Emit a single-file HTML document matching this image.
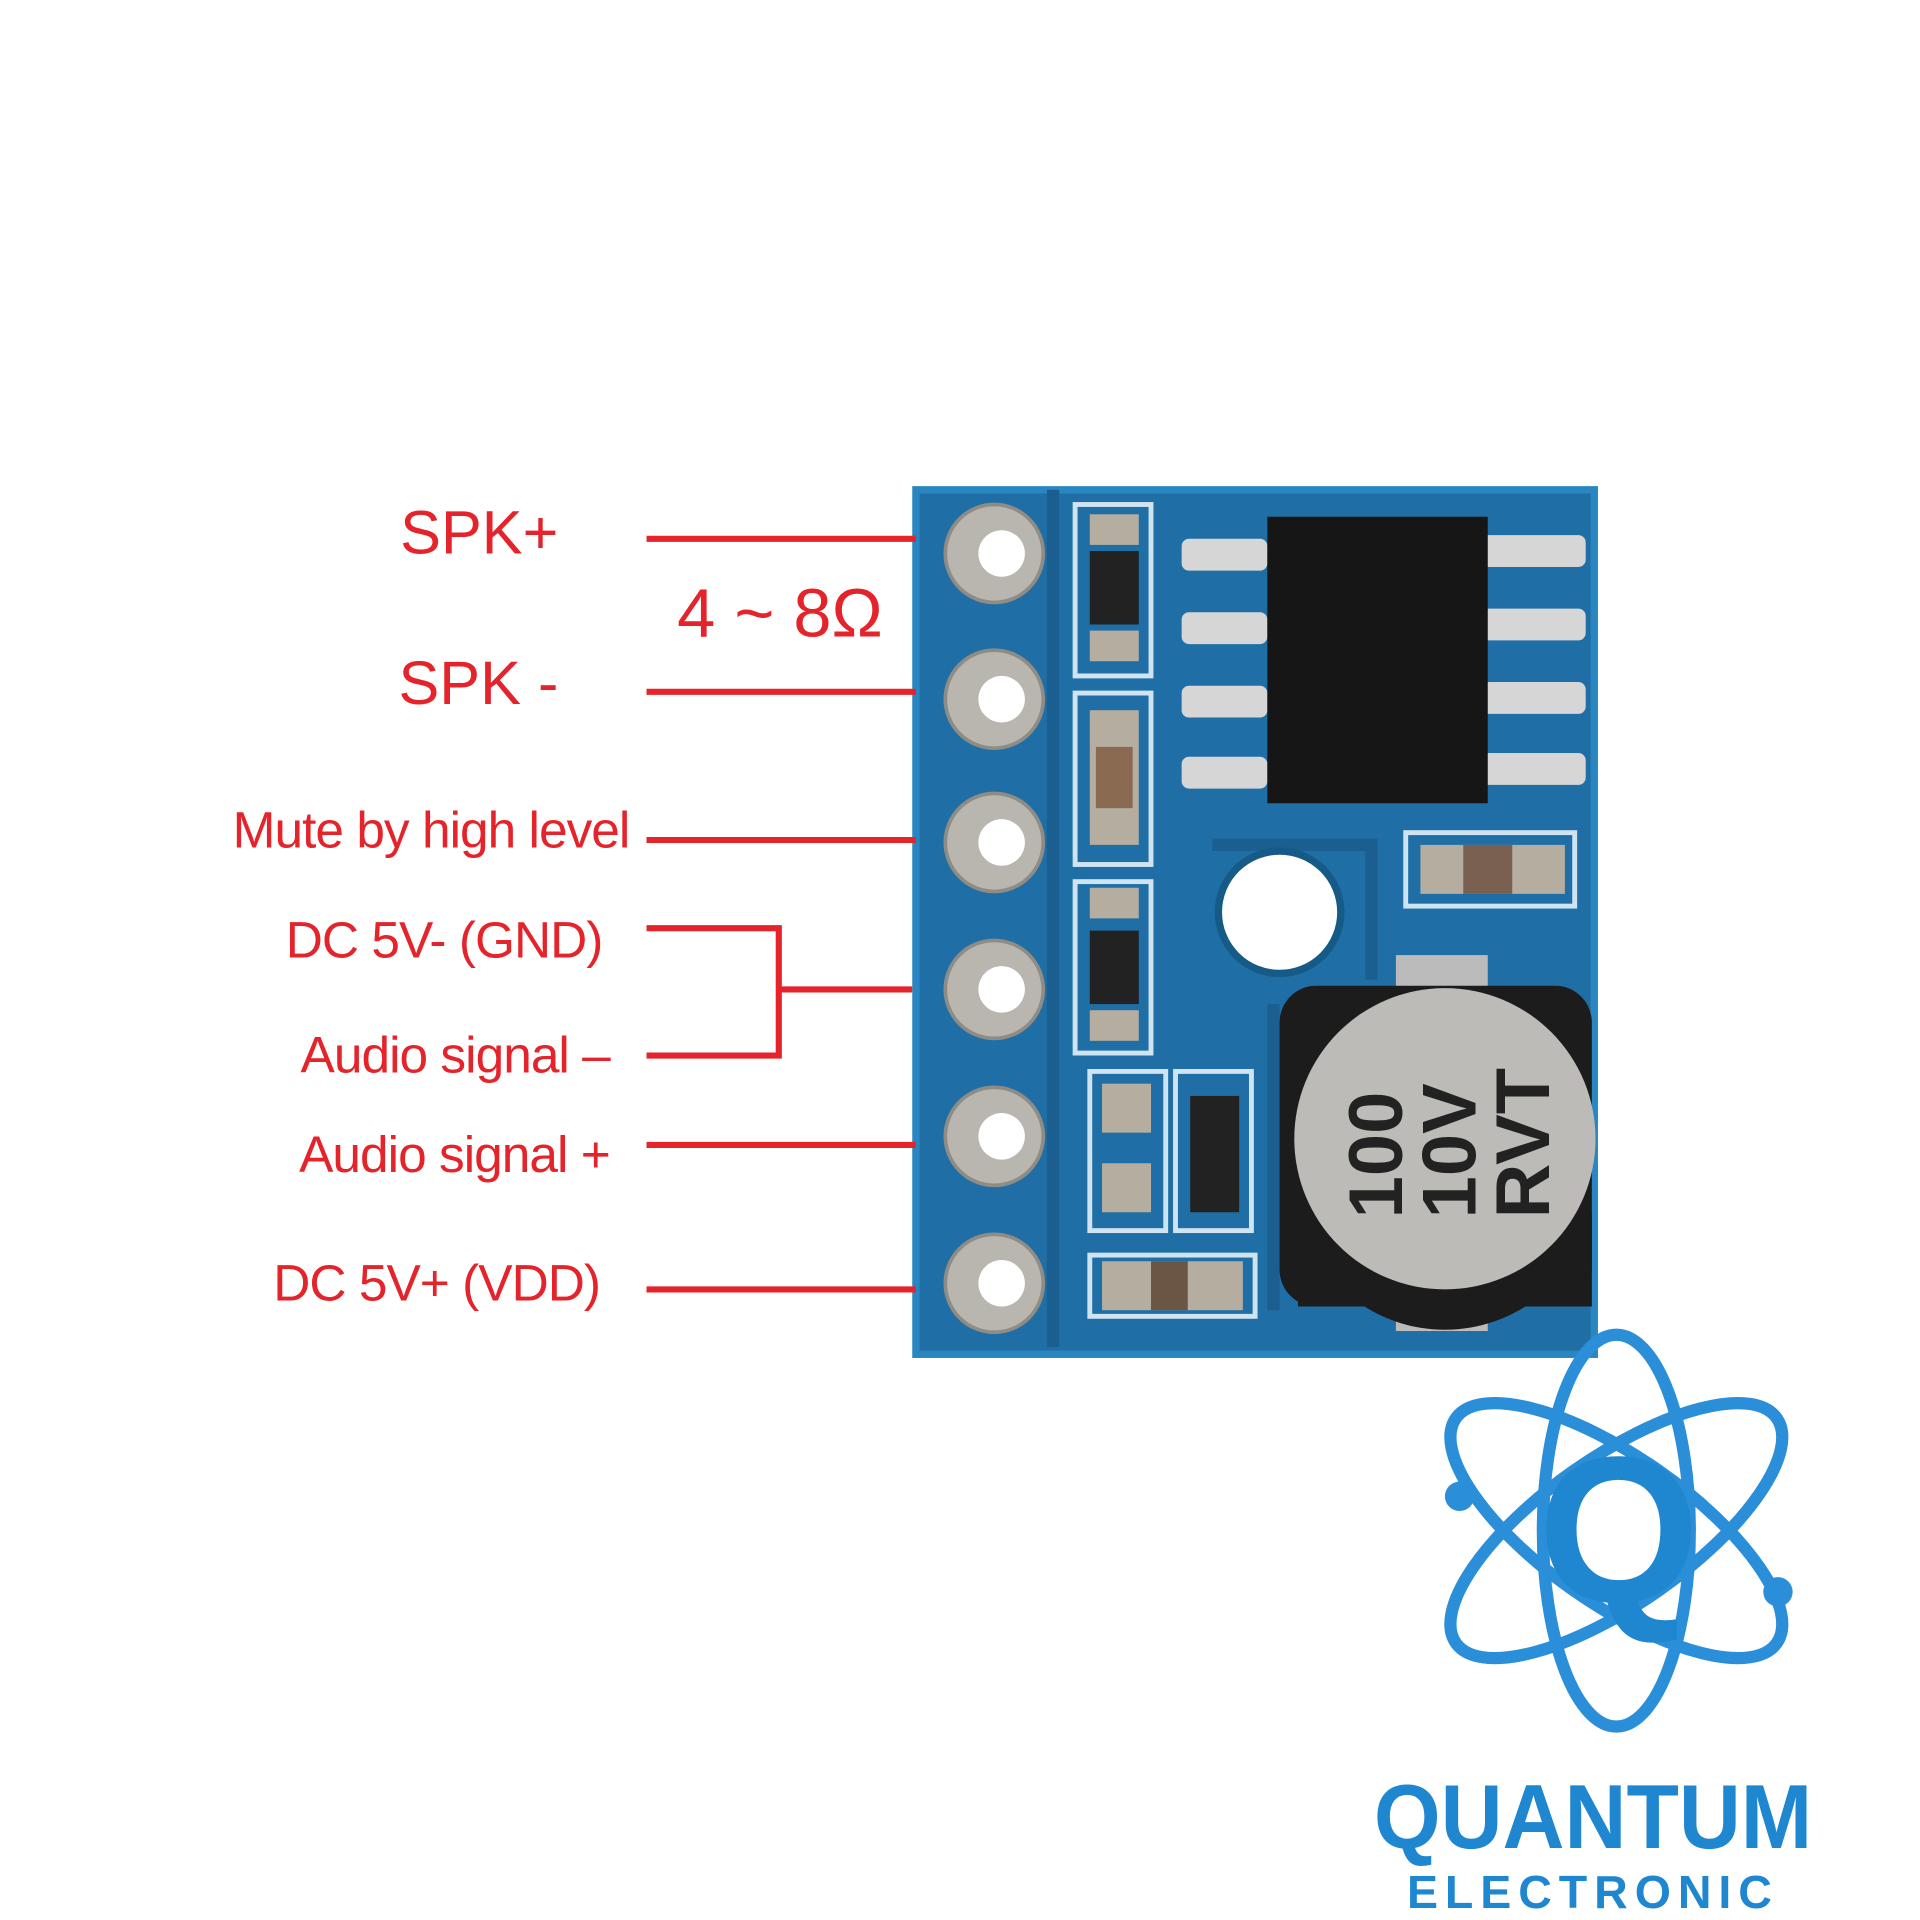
<!DOCTYPE html>
<html><head><meta charset="utf-8"><style>
html,body{margin:0;padding:0;background:#fff;}
svg{display:block;}
text{font-family:"Liberation Sans",sans-serif;}
</style></head><body>
<svg width="1920" height="1920" viewBox="0 0 1568 1568" xmlns="http://www.w3.org/2000/svg">
<rect width="1568" height="1568" fill="#fff"/>
<!-- PCB -->
<rect x="748" y="400" width="554" height="706" fill="#1f6fa6"/>
<rect x="748" y="400" width="554" height="706" fill="none" stroke="#2a86c0" stroke-width="6"/>
<path d="M860 400 L860 1100 M990 690 L1120 690 L1120 800 M1040 820 L1040 1070" stroke="#1a5f90" stroke-width="10" fill="none"/>
<!-- pads -->
<g fill="#b9b6b0" stroke="#8f8c86" stroke-width="3">
<circle cx="812" cy="452" r="40"/><circle cx="812" cy="571" r="40"/><circle cx="812" cy="688" r="40"/>
<circle cx="812" cy="808" r="40"/><circle cx="812" cy="928" r="40"/><circle cx="812" cy="1048" r="40"/>
</g>
<g fill="#fff">
<circle cx="818" cy="452" r="19"/><circle cx="818" cy="571" r="19"/><circle cx="818" cy="688" r="19"/>
<circle cx="818" cy="808" r="19"/><circle cx="818" cy="928" r="19"/><circle cx="818" cy="1048" r="19"/>
</g>
<!-- resistor columns -->
<g fill="none" stroke="#cfe3f0" stroke-width="4">
<rect x="878" y="412" width="62" height="140"/><rect x="878" y="566" width="62" height="140"/>
<rect x="878" y="720" width="62" height="140"/>
<rect x="890" y="875" width="62" height="130"/><rect x="960" y="875" width="62" height="130"/>
<rect x="890" y="1025" width="135" height="50"/><rect x="1148" y="680" width="138" height="60"/>
</g>
<g fill="#222"><rect x="890" y="450" width="40" height="60"/><rect x="890" y="760" width="40" height="60"/><rect x="972" y="895" width="40" height="95"/></g>
<g fill="#b5ada0"><rect x="890" y="420" width="40" height="25"/><rect x="890" y="515" width="40" height="25"/>
<rect x="890" y="725" width="40" height="25"/><rect x="890" y="825" width="40" height="25"/>
<rect x="890" y="580" width="40" height="110"/><rect x="900" y="885" width="40" height="40"/><rect x="900" y="950" width="40" height="40"/>
<rect x="900" y="1030" width="115" height="40"/><rect x="1160" y="690" width="118" height="40"/></g>
<rect x="895" y="610" width="30" height="50" fill="#8a6a50"/>
<rect x="940" y="1030" width="30" height="40" fill="#6b5545"/>
<rect x="1195" y="690" width="40" height="40" fill="#7a6050"/>
<!-- chip -->
<g fill="#d6d6d6"><rect x="965" y="440" width="70" height="26" rx="6"/><rect x="965" y="500" width="70" height="26" rx="6"/>
<rect x="965" y="560" width="70" height="26" rx="6"/><rect x="965" y="618" width="70" height="26" rx="6"/>
<rect x="1210" y="437" width="85" height="26" rx="6"/><rect x="1210" y="497" width="85" height="26" rx="6"/>
<rect x="1210" y="557" width="85" height="26" rx="6"/><rect x="1210" y="615" width="85" height="26" rx="6"/></g>
<rect x="1035" y="422" width="180" height="234" fill="#161616"/>
<!-- hole -->
<circle cx="1045" cy="745" r="50" fill="#fff" stroke="#165a88" stroke-width="6"/>
<!-- capacitor -->
<rect x="1140" y="780" width="75" height="30" fill="#bbb"/>
<rect x="1140" y="1062" width="75" height="25" fill="#bbb"/>
<rect x="1045" y="805" width="255" height="262" rx="30" fill="#1c1c1c"/>
<circle cx="1180" cy="930" r="123" fill="#bdbbb8"/>
<path d="M1060 990 A123 123 0 0 0 1300 990 L1300 1067 L1060 1067Z" fill="#1c1c1c"/>
<text x="0" y="0" transform="translate(1145 995) rotate(-90)" font-size="62" font-weight="bold" fill="#222">100</text>
<text x="0" y="0" transform="translate(1205 995) rotate(-90)" font-size="62" font-weight="bold" fill="#222">10V</text>
<text x="0" y="0" transform="translate(1265 995) rotate(-90)" font-size="62" font-weight="bold" fill="#222">RVT</text>
<!-- red lines -->
<g stroke="#e4232b" stroke-width="5" fill="none">
<line x1="528" y1="440" x2="748" y2="440"/><line x1="528" y1="565" x2="748" y2="565"/>
<line x1="528" y1="686" x2="748" y2="686"/><line x1="528" y1="935" x2="748" y2="935"/>
<line x1="528" y1="1053" x2="748" y2="1053"/>
<polyline points="528,758 636,758 636,862 528,862"/><line x1="636" y1="808" x2="745" y2="808"/>
</g>
<g fill="#e4232b" text-anchor="end">
<text x="456" y="452" font-size="50">SPK+</text>
<text x="456" y="575" font-size="50">SPK -</text>
<text x="514" y="692" font-size="42" letter-spacing="-0.8">Mute by high level</text>
<text x="492" y="782" font-size="42" letter-spacing="-0.8">DC 5V-  (GND)</text>
<text x="498" y="876" font-size="42" letter-spacing="-0.8">Audio signal –</text>
<text x="498" y="957" font-size="42" letter-spacing="-0.8">Audio signal +</text>
<text x="490" y="1062" font-size="42" letter-spacing="-0.8">DC 5V+ (VDD)</text>
</g>
<text x="553" y="520" font-size="56" fill="#e4232b">4 ~ 8Ω</text>
<!-- logo -->
<g fill="none" stroke="#2a8fd8" stroke-width="10">
<ellipse cx="1320" cy="1250" rx="60" ry="160"/>
<ellipse cx="1320" cy="1250" rx="160" ry="60" transform="rotate(35 1320 1250)"/>
<ellipse cx="1320" cy="1250" rx="160" ry="60" transform="rotate(-35 1320 1250)"/>
</g>
<circle cx="1192" cy="1222" r="12" fill="#2a8fd8"/><circle cx="1452" cy="1300" r="12" fill="#2a8fd8"/>
<text x="1322" y="1308" font-size="170" font-weight="bold" fill="#1f86d0" text-anchor="middle">Q</text>
<text x="1122" y="1509" font-size="74" font-weight="bold" fill="#1f86d0" textLength="358" lengthAdjust="spacingAndGlyphs">QUANTUM</text>
<text x="1149" y="1558" font-size="38" font-weight="600" fill="#1f86d0" textLength="298" lengthAdjust="spacing">ELECTRONIC</text>
</svg>
</body></html>
